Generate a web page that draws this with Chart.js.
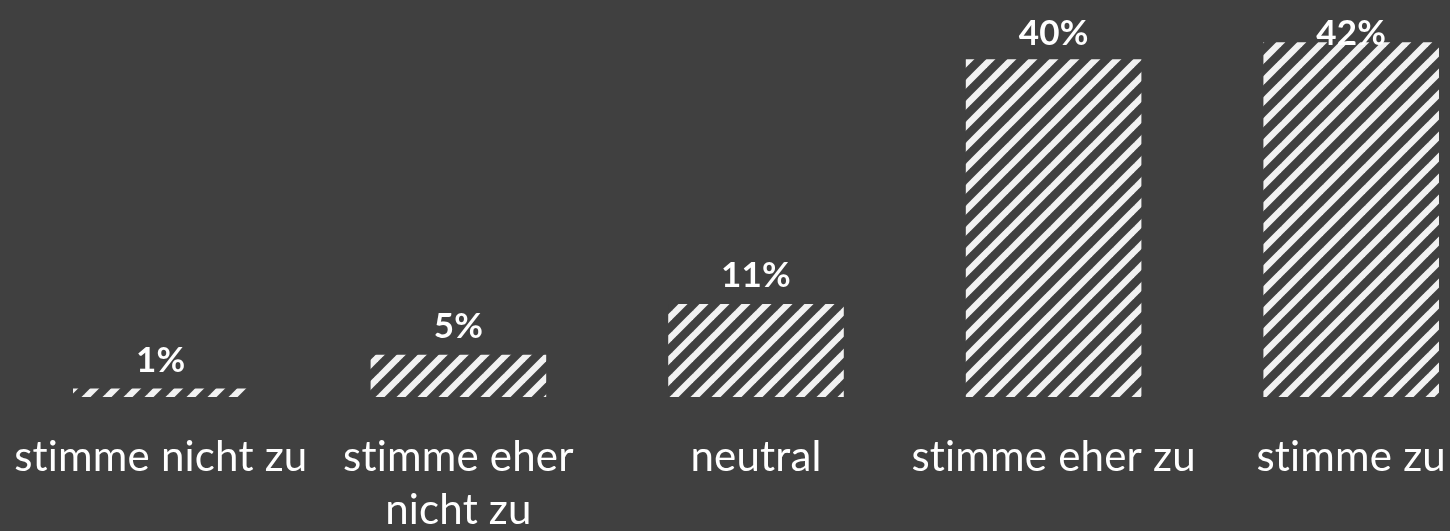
<!DOCTYPE html>
<html>
<head>
<meta charset="utf-8">
<script src="https://cdn.jsdelivr.net/npm/chart.js@4.4.1/dist/chart.umd.min.js"></script>
<style>
  html, body { margin: 0; padding: 0; background: #404040; overflow: hidden; }
  #wrap { position: absolute; left: 0; top: 0; width: 1500px; height: 531px; }
</style>
</head>
<body>
<div id="wrap"><canvas id="chart-answers"></canvas></div>
<script>
// answer categories and shares (%)
const categories = ['stimme nicht zu', ['stimme eher', 'nicht zu'], 'neutral', 'stimme eher zu', 'stimme zu'];
const shares = [1, 5, 11, 40, 42];
const shareLabels = ['1%', '5%', '11%', '40%', '42%'];

document.addEventListener('DOMContentLoaded', function () {
  const BG = '#404040';
  const STRIPE = '#f2f2f2';
  const TEXT = '#ffffff';
  const AXIS_HEIGHT = 134;

  // wide upward diagonal hatch
  const makeHatch = function () {
    const size = 21;
    const c = document.createElement('canvas');
    c.width = size;
    c.height = size;
    const ctx = c.getContext('2d');
    ctx.fillStyle = BG;
    ctx.fillRect(0, 0, size, size);
    ctx.strokeStyle = STRIPE;
    ctx.lineWidth = 6.5;
    for (let k = -1; k <= 1; k++) {
      ctx.beginPath();
      ctx.moveTo(k * size - 2, size + 2);
      ctx.lineTo(k * size + size + 2, -2);
      ctx.stroke();
    }
    return c.getContext('2d').createPattern(c, 'repeat');
  };

  // tiny letter spacing so Lato doesn't use its "ti" ligature
  const noLigatures = {
    id: 'noLigatures',
    beforeDraw(chart) {
      chart.ctx.letterSpacing = '0.2px';
    },
  };

  const valueLabels = {
    id: 'valueLabels',
    afterDatasetsDraw(chart) {
      const ctx = chart.ctx;
      const meta = chart.getDatasetMeta(0);
      ctx.save();
      ctx.fillStyle = TEXT;
      ctx.font = 'bold 35px Lato';
      ctx.textAlign = 'center';
      ctx.textBaseline = 'alphabetic';
      meta.data.forEach((bar, i) => {
        const y = Math.max(bar.y - 17, 45);
        ctx.fillText(shareLabels[i], bar.x, y);
      });
      ctx.restore();
    },
  };

  const el = document.getElementById('chart-answers');
  new Chart(el, {
    type: 'bar',
    data: {
      labels: categories,
      datasets: [
        {
          label: 'Anteil',
          data: shares,
          backgroundColor: makeHatch(),
          borderWidth: 0,
          barPercentage: 0.59,
          categoryPercentage: 1,
        },
      ],
    },
    options: {
      responsive: true,
      maintainAspectRatio: false,
      animation: false,
      layout: { padding: { left: 12, right: 0, top: 0, bottom: 0 } },
      scales: {
        x: {
          grid: { display: false, drawTicks: false },
          border: { display: false },
          ticks: {
            color: TEXT,
            padding: 34,
            maxRotation: 0,
            autoSkip: false,
            font: { family: 'Lato', size: 42, lineHeight: 1.26 },
          },
          // fixed axis height, no extra side padding for the wide labels
          afterFit(axis) {
            axis.height = AXIS_HEIGHT;
            axis.paddingLeft = 0;
            axis.paddingRight = 0;
          },
        },
        y: {
          display: false,
          min: 0,
          max: 47,
        },
      },
      plugins: {
        legend: { display: false },
        tooltip: { enabled: false },
      },
    },
    plugins: [noLigatures, valueLabels],
  });
});
</script>
</body>
</html>
